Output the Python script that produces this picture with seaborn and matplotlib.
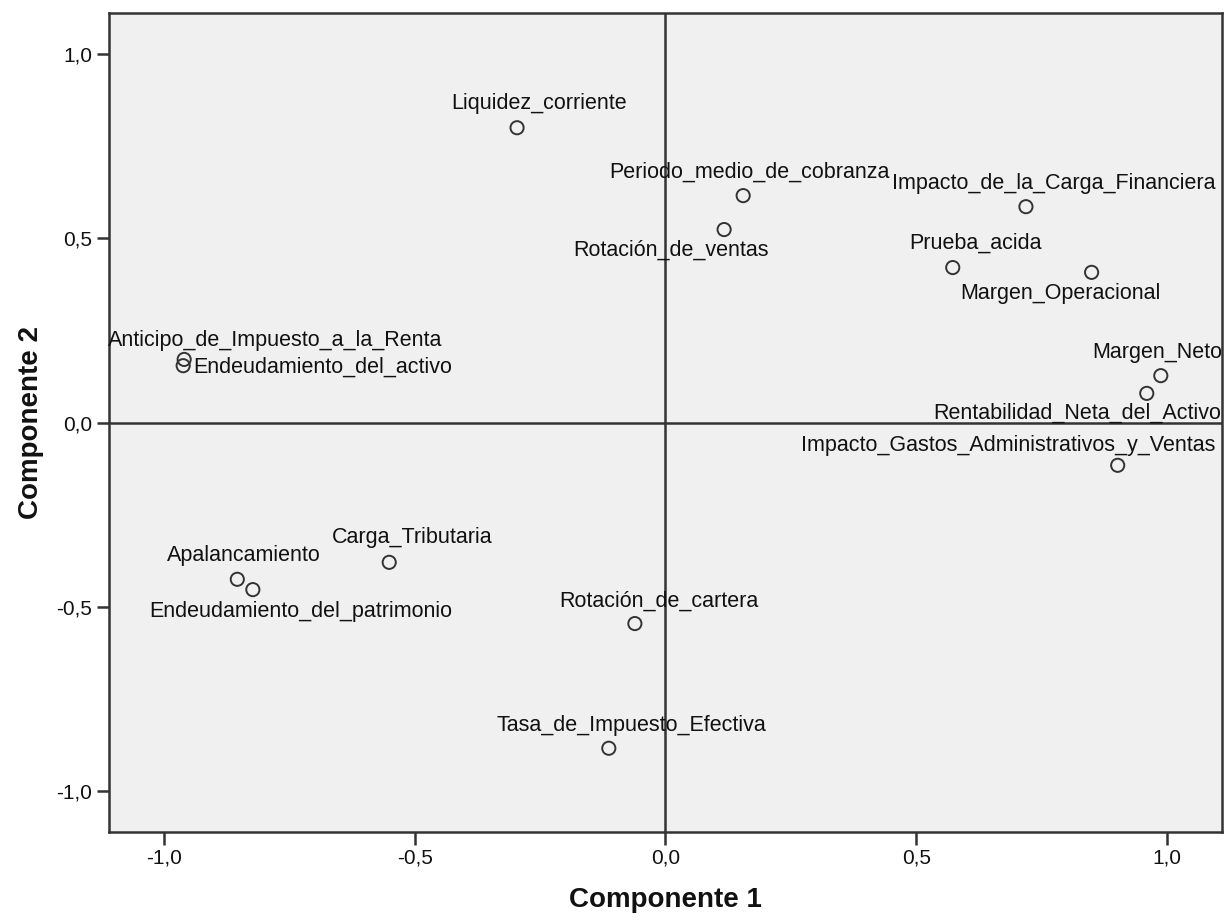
import matplotlib
matplotlib.use("Agg")
import matplotlib.pyplot as plt
import seaborn as sns
import pandas as pd

# ---- data (component loadings) ----
variables = [
    "Liquidez_corriente", "Periodo_medio_de_cobranza", "Rotación_de_ventas",
    "Impacto_de_la_Carga_Financiera", "Prueba_acida", "Margen_Operacional",
    "Margen_Neto", "Rentabilidad_Neta_del_Activo",
    "Impacto_Gastos_Administrativos_y_Ventas", "Anticipo_de_Impuesto_a_la_Renta",
    "Endeudamiento_del_activo", "Apalancamiento", "Endeudamiento_del_patrimonio",
    "Carga_Tributaria", "Rotación_de_cartera", "Tasa_de_Impuesto_Efectiva",
]
componente1 = [-0.296, 0.155, 0.117, 0.719, 0.573, 0.850, 0.988, 0.960,
               0.902, -0.960, -0.962, -0.854, -0.823, -0.551, -0.061, -0.113]
componente2 = [0.799, 0.615, 0.523, 0.585, 0.420, 0.407, 0.127, 0.079,
               -0.116, 0.171, 0.154, -0.425, -0.453, -0.379, -0.545, -0.883]
tick_values = [-1.0, -0.5, 0.0, 0.5, 1.0]
tick_labels = ["-1,0", "-0,5", "0,0", "0,5", "1,0"]

# label placement (pixel offsets from the point, horizontal alignment)
label_offsets = [(22, 24), (6, 23), (-53, -21), (28, 23), (23, 24), (-31, -21),
                 (-4, 23), (-70, -20), (-109, 20), (91, 19), (10, -1), (7, 24),
                 (48, -22), (23, 25), (24, 22), (23, 23)]
label_ha = ["center"] * 10 + ["left"] + ["center"] * 5

df = pd.DataFrame({"Variable": variables, "Componente 1": componente1,
                   "Componente 2": componente2})

sns.set_theme(style="white")
plt.rcParams["font.family"] = ["Liberation Sans", "DejaVu Sans"]

fig = plt.figure(figsize=(12.27, 9.22), dpi=100, facecolor="white")
ax = fig.add_axes([0.0888, 0.0976, 0.9071, 0.8883])
ax.set_facecolor("#f0f0f0")

ax.axhline(0, color="#333333", lw=1.8, zorder=1)
ax.axvline(0, color="#333333", lw=1.8, zorder=1)

sns.scatterplot(data=df, x="Componente 1", y="Componente 2", ax=ax,
                s=90, marker="o", facecolor="none", edgecolor="#333333",
                linewidth=1.4, zorder=3, legend=False)

for name, x, y, (dx, dy), ha in zip(variables, componente1, componente2,
                                    label_offsets, label_ha):
    ax.annotate(name, (x, y), xytext=(dx, dy), textcoords="offset pixels",
                ha=ha, va="center", fontsize=15.5, color="#111111", zorder=4)

ax.set_xlim(-1.11, 1.11)
ax.set_ylim(-1.11, 1.11)
ax.set_xticks(tick_values)
ax.set_xticklabels(tick_labels)
ax.set_yticks(tick_values)
ax.set_yticklabels(tick_labels)
ax.tick_params(axis="both", which="major", length=9, width=1.8,
               color="#333333", labelsize=15, labelcolor="#111111",
               direction="out", pad=3, bottom=True, left=True)
for sp in ax.spines.values():
    sp.set_color("#333333")
    sp.set_linewidth(1.8)

ax.set_xlabel("Componente 1", fontsize=20, fontweight="bold", labelpad=14,
              color="#111111")
ax.set_ylabel("Componente 2", fontsize=20, fontweight="bold", labelpad=9,
              color="#111111")

fig.savefig("out.png", dpi=100, facecolor=fig.get_facecolor())
